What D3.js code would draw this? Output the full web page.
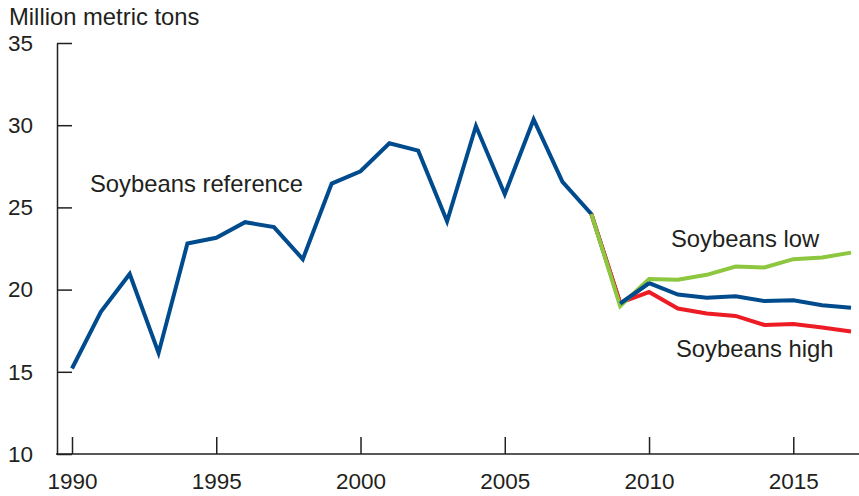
<!DOCTYPE html>
<html>
<head>
<meta charset="utf-8">
<script src="https://cdn.jsdelivr.net/npm/d3@7"></script>
<style>
  body { margin: 0; background: #fff; }
  svg { display: block; }
  text { font-family: "Liberation Sans", Arial, sans-serif; fill: #231f20; }
</style>
</head>
<body>
<div id="chart"></div>
<script>
// data
var years = d3.range(1990, 2018);
var reference = [15.2, 18.65, 20.95, 16.15, 22.8, 23.15, 24.1, 23.8, 21.85, 26.45,
  27.2, 28.9, 28.45, 24.15, 29.95, 25.8, 30.35, 26.55, 24.6, 19.15,
  20.4, 19.7, 19.5, 19.6, 19.3, 19.35, 19.05, 18.9];
var projYears = d3.range(2008, 2018);
var high = [24.6, 19.2, 19.85, 18.85, 18.55, 18.4, 17.85, 17.9, 17.7, 17.45];
var low = [24.6, 19.0, 20.65, 20.6, 20.9, 21.4, 21.35, 21.85, 21.95, 22.25];
var yTicks = [10, 15, 20, 25, 30, 35];
var xTicks = [1990, 1995, 2000, 2005, 2010, 2015];

var width = 859, height = 496;
var fontSize = 22.5;
var labelSize = 23.8;

var svg = d3.select("#chart").append("svg")
    .attr("width", width)
    .attr("height", height);

var x = d3.scaleLinear().domain([1990, 2017]).range([72, 851]);
var y = d3.scaleLinear().domain([10, 35]).range([454, 43]);

// y axis, ticks point into the plot
var yAxis = svg.append("g")
    .attr("transform", "translate(57,0)")
    .call(d3.axisLeft(y).tickValues(yTicks).tickSizeInner(-15).tickSizeOuter(0).tickPadding(24));
yAxis.select(".domain").attr("stroke", "#231f20").attr("stroke-width", 1.5);
yAxis.selectAll(".tick line").attr("stroke", "#231f20").attr("stroke-width", 1.5);
yAxis.selectAll("text").style("font-size", fontSize + "px").attr("fill", "#231f20");

// x axis, ticks point up
var xAxis = svg.append("g")
    .attr("transform", "translate(0,454)")
    .call(d3.axisBottom(x).tickValues(xTicks).tickFormat(d3.format("d")).tickSizeInner(-17).tickSizeOuter(0).tickPadding(19));
xAxis.select(".domain").remove();
xAxis.append("line")
    .attr("x1", 56).attr("x2", width)
    .attr("stroke", "#231f20").attr("stroke-width", 1.5);
xAxis.selectAll(".tick line").attr("stroke", "#231f20").attr("stroke-width", 1.5);
xAxis.selectAll("text").style("font-size", fontSize + "px").attr("fill", "#231f20");

svg.append("text")
    .attr("x", 9).attr("y", 25)
    .style("font-size", labelSize + "px")
    .text("Million metric tons");

var line = d3.line()
    .x(function (d) { return x(d[0]); })
    .y(function (d) { return y(d[1]); });

function drawSeries(xs, vals, color) {
    svg.append("path")
        .datum(d3.zip(xs, vals))
        .attr("d", line)
        .attr("fill", "none")
        .attr("stroke", color)
        .attr("stroke-width", 4)
        .attr("stroke-linejoin", "miter");
}

drawSeries(years, reference, "#004b8d");
drawSeries(projYears, high, "#ed1c24");
drawSeries(projYears, low, "#8dc63f");
// keep the reference visible between the two projections
drawSeries(projYears.slice(1, 3), reference.slice(19, 21), "#004b8d");

svg.append("text").attr("x", 90).attr("y", 192).style("font-size", labelSize + "px").text("Soybeans reference");
svg.append("text").attr("x", 671).attr("y", 247).style("font-size", labelSize + "px").text("Soybeans low");
svg.append("text").attr("x", 676).attr("y", 357).style("font-size", labelSize + "px").text("Soybeans high");
</script>
</body>
</html>
